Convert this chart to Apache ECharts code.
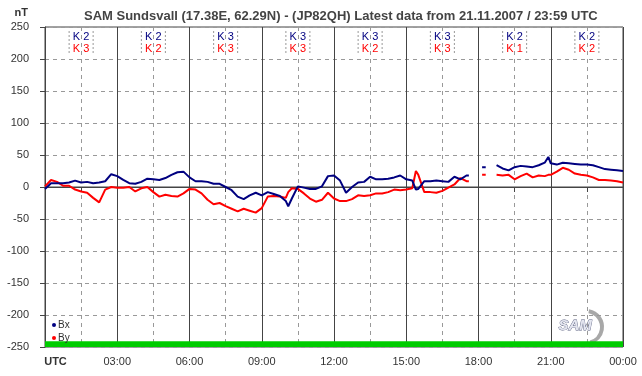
<!DOCTYPE html>
<html>
<head>
<meta charset="utf-8">
<script src="https://cdn.jsdelivr.net/npm/echarts@6/dist/echarts.min.js"></script>
<style>
  html, body { margin: 0; padding: 0; background: #fff; }
  #chart { width: 642px; height: 376px; }
</style>
</head>
<body>
<div id="chart"></div>
<script>
// time of day in hours (UTC)
const hours = [0,0.25,0.5,0.75,1,1.25,1.5,1.75,2,2.25,2.5,2.75,3,3.25,3.5,3.75,4,4.25,4.5,4.75,5,5.25,5.5,5.75,6,6.25,6.5,6.75,7,7.25,7.5,7.75,8,8.25,8.5,8.75,9,9.25,9.5,9.75,10,
  10.1,
  10.25,10.5,10.75,11,11.25,11.5,11.75,12,12.25,12.5,12.75,13,13.25,13.5,13.75,14,14.25,14.5,14.75,15,15.25,
  15.4,
  15.5,15.75,16,16.25,16.5,16.75,17,17.25,17.5,
  17.6,17.75,18.15,18.3,18.5,
  18.75,19,19.25,19.5,19.75,20,20.25,20.5,20.75,
  20.9,
  21,21.25,21.5,21.75,22,22.25,22.5,22.75,23,23.25,23.5,23.75,24];

const bx = [-3,6,6,6,7,10,7,8,6,7, 9,20,17,11,6,5,8,13,12,11, 14,19,23,24,15,9,9,8,5,5, 0,-5,-15,-19,-13,-9,-13,-8,-11,-14, -22,
  -30,
  -18,1,-1,-3,-3,1,17,18,10,-9,0,7,8,16,12,12,13,15,18,12,10,
  -4,
  -3,9,9,10,9,8,16,12,18,
  18,null,31,31,null,
  34,29,26,31,33,32,31,34,38,
  47,
  37,35,38,37,36,35,35,34,31,28,27,26,25];

const by = [1,11,8,2,2,-4,-7,-9,-17,-24, -4,0,-1,-1,0,-7,-2,0,-8,-15, -12,-14,-15,-10,-3,-4,-10,-20,-27,-25, -30,-34,-38,-34,-37,-40,-33,-15,-14,-15, -17,
  -8,
  -2,-3,-10,-18,-23,-20,-9,-18,-22,-22,-19,-13,-14,-13,-10,-10,-8,-4,-5,-4,-2,
  25,
  19,-8,-8,-9,-6,-1,4,14,9,
  9,null,19,19,null,
  19,18,19,12,17,21,15,18,17,
  19,
  19,24,30,27,21,19,18,15,11,11,10,9,7];

// K index per 3-hour block
const kMid = [1.5,4.5,7.5,10.5,13.5,16.5,19.5,22.5];
const kBx = [2,2,3,3,3,3,2,2];
const kBy = [3,2,3,3,2,3,1,2];

const FONT = 'Liberation Sans, Arial, sans-serif';
const chart = echarts.init(document.getElementById('chart'), null, { renderer: 'canvas' });

chart.setOption({
  animation: false,
  backgroundColor: '#fff',
  title: {
    text: 'SAM Sundsvall (17.38E, 62.29N) - (JP82QH) Latest data from 21.11.2007 / 23:59 UTC',
    left: 79,
    top: 5,
    textStyle: { fontSize: 13, fontWeight: 'bold', color: '#444', fontFamily: FONT }
  },
  grid: {
    left: 45, right: 19, top: 27, bottom: 29,
    show: true, borderColor: '#444', borderWidth: 1
  },
  legend: {
    data: ['Bx', 'By'],
    orient: 'vertical',
    left: 47,
    top: 314,
    icon: 'circle',
    itemWidth: 4,
    itemHeight: 4,
    itemGap: 1,
    textStyle: { fontSize: 10, lineHeight: 12, color: '#333', fontFamily: FONT, padding: [0, 0, 0, -3] }
  },
  xAxis: {
    type: 'value',
    min: 0, max: 24, interval: 3,
    axisLine: { lineStyle: { color: '#444' } },
    axisTick: { show: true, length: 5, lineStyle: { color: '#444' } },
    minorTick: { show: true, splitNumber: 2, length: 5, lineStyle: { color: '#444' } },
    splitLine: { show: true, lineStyle: { color: '#444', width: 1 } },
    minorSplitLine: { show: true, lineStyle: { color: '#999', type: [4, 4] } },
    axisLabel: {
      margin: 9,
      fontSize: 11,
      color: '#333',
      fontFamily: FONT,
      showMinLabel: true,
      showMaxLabel: true,
      formatter: function (v) {
        if (v === 0) return '{u|UTC}';
        const h = v % 24;
        return (h < 10 ? '0' : '') + h + ':00';
      },
      rich: { u: { fontWeight: 'bold', fontSize: 11, color: '#333', fontFamily: FONT, padding: [0, 0, 0, 21] } }
    }
  },
  yAxis: {
    type: 'value',
    min: -250, max: 250, interval: 50,
    name: 'nT',
    nameLocation: 'end',
    nameGap: 9,
    nameTextStyle: { fontWeight: 'bold', fontSize: 11, color: '#333', fontFamily: FONT, align: 'right', padding: [0, 17, 0, 0] },
    axisLine: { show: true, lineStyle: { color: '#444' } },
    axisTick: { show: true, length: 5, lineStyle: { color: '#444' } },
    splitLine: { show: true, lineStyle: { color: '#999', type: [4, 4] } },
    axisLabel: { margin: 16, fontSize: 11, color: '#333', fontFamily: FONT }
  },
  graphic: [
    {
      type: 'arc',
      shape: { cx: 586, cy: 327, r: 16, startAngle: -1.4, endAngle: 1.3 },
      style: { stroke: '#a8a8a8', lineWidth: 4, fill: null }
    },
    {
      type: 'text',
      left: 558, top: 318,
      style: { text: 'SAM', font: 'italic bold 15px ' + FONT, fill: '#e4e6f0', stroke: '#5a6080', lineWidth: 0.8 }
    }
  ],
  series: [
    {
      name: 'zero',
      type: 'line',
      data: [[0, 0], [24, 0]],
      symbol: 'none',
      silent: true,
      z: 1,
      lineStyle: { color: '#444', width: 1 },
      markArea: {
        silent: true,
        itemStyle: { color: '#00cc00', opacity: 1 },
        data: [[{ xAxis: 0, yAxis: -250 }, { xAxis: 24, yAxis: -241 }]]
      }
    },
    {
      name: 'K',
      type: 'custom',
      silent: true,
      z: 3,
      data: kMid.map((m, i) => [m, kBx[i], kBy[i]]),
      renderItem: function (params, api) {
        const p = api.coord([api.value(0), 225]);
        const dash = { stroke: '#999', lineWidth: 1, lineDash: [2, 2] };
        return {
          type: 'group',
          children: [
            { type: 'line', shape: { x1: p[0] - 12, y1: p[1] - 12, x2: p[0] - 12, y2: p[1] + 12 }, style: dash },
            { type: 'line', shape: { x1: p[0] + 12, y1: p[1] - 12, x2: p[0] + 12, y2: p[1] + 12 }, style: dash },
            { type: 'text', style: { text: 'K ' + api.value(1), x: p[0], y: p[1] - 6, align: 'center', verticalAlign: 'middle', fill: '#000080', font: '11px ' + FONT } },
            { type: 'text', style: { text: 'K ' + api.value(2), x: p[0], y: p[1] + 6, align: 'center', verticalAlign: 'middle', fill: '#ff0000', font: '11px ' + FONT } }
          ]
        };
      }
    },
    {
      name: 'Bx',
      type: 'line',
      data: hours.map((h, i) => [h, bx[i]]),
      showSymbol: false,
      connectNulls: false,
      z: 5,
      itemStyle: { color: '#000080' },
      lineStyle: { color: '#000080', width: 2 }
    },
    {
      name: 'By',
      type: 'line',
      data: hours.map((h, i) => [h, by[i]]),
      showSymbol: false,
      connectNulls: false,
      z: 4,
      itemStyle: { color: '#ff0000' },
      lineStyle: { color: '#ff0000', width: 2 }
    }
  ]
});
</script>
</body>
</html>
